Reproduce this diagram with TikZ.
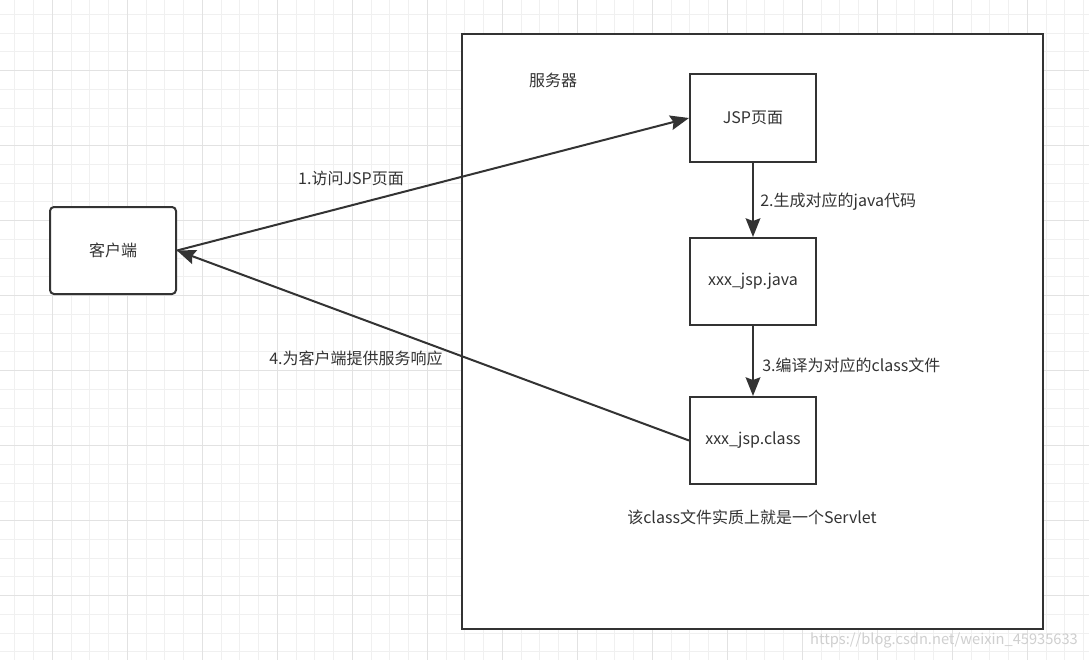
\documentclass[tikz,border=0pt]{standalone}
\usepackage{fontspec}
\setmainfont{Noto Sans CJK SC}
\usetikzlibrary{arrows.meta}
\definecolor{ink}{HTML}{333333}
\definecolor{gridminor}{HTML}{F0F0F0}
\definecolor{gridmajor}{HTML}{E2E2E2}
\definecolor{watermark}{HTML}{CFCFCF}
\begin{document}
\begin{tikzpicture}[x=0.75pt,y=-0.75pt,
  every node/.style={font=\fontsize{12}{14}\selectfont, text=ink},
  box/.style={draw=ink, line width=1.5pt, fill=white,
    minimum width=94.5pt, minimum height=65.25pt, inner sep=0pt},
  link/.style={draw=ink, line width=1.5pt,
    -{Stealth[length=14pt, width=11pt, inset=2pt]}},
  lbl/.style={inner sep=0pt}]
% canvas
\useasboundingbox (0,0) rectangle (1089,660);
\fill[white] (0,0) rectangle (1089,660);
% background grid
\foreach \i in {0,...,57}
  \draw[gridminor, line width=0.75pt] ({14.8+18.75*\i},0) -- ({14.8+18.75*\i},660);
\foreach \j in {0,...,35}
  \draw[gridminor, line width=0.75pt] (0,{14.45+18.75*\j}) -- (1089,{14.45+18.75*\j});
\foreach \i in {0,...,14}
  \draw[gridmajor, line width=0.75pt] ({52.3+75*\i},0) -- ({52.3+75*\i},660);
\foreach \j in {0,...,7}
  \draw[gridmajor, line width=0.75pt] (0,{70.7+75*\j}) -- (1089,{70.7+75*\j});

% server frame
\node[draw=ink, line width=1.5pt, fill=white, minimum width=435.75pt,
  minimum height=446.25pt, inner sep=0pt] (server) at (752.5,331.5) {};
\node[lbl] (servertitle) at (553,80) {服务器};

% client and server-side stages
\node[box, rounded corners=3pt] (client) at (113,250.5) {客户端};
\node[box] (jsp) at (753,118) {JSP页面};
\node[box] (java) at (753,281.5) {xxx\_jsp.java};
\node[box] (cls) at (753,440.5) {xxx\_jsp.class};

% connectors
\draw[link] (client.east) -- (jsp.west);
\draw[link] (jsp.south) -- (java.north);
\draw[link] (java.south) -- (cls.north);
\draw[link] (cls.west) -- (client.east);

% step labels
\node[lbl] (l1) at (351,178) {1.访问JSP页面};
\node[lbl, anchor=west] (l2) at (760,202) {2.生成对应的java代码};
\node[lbl, anchor=west] (l3) at (762,365) {3.编译为对应的class文件};
\node[lbl] (l4) at (356,358) {4.为客户端提供服务响应};
\node[lbl] (note) at (752,517) {该class文件实质上就是一个Servlet};

% watermark
\node[lbl, text=watermark, font=\fontsize{11}{13}\selectfont] (wm) at (944,640)
  {https://blog.csdn.net/weixin\_45935633};
\end{tikzpicture}
\end{document}
